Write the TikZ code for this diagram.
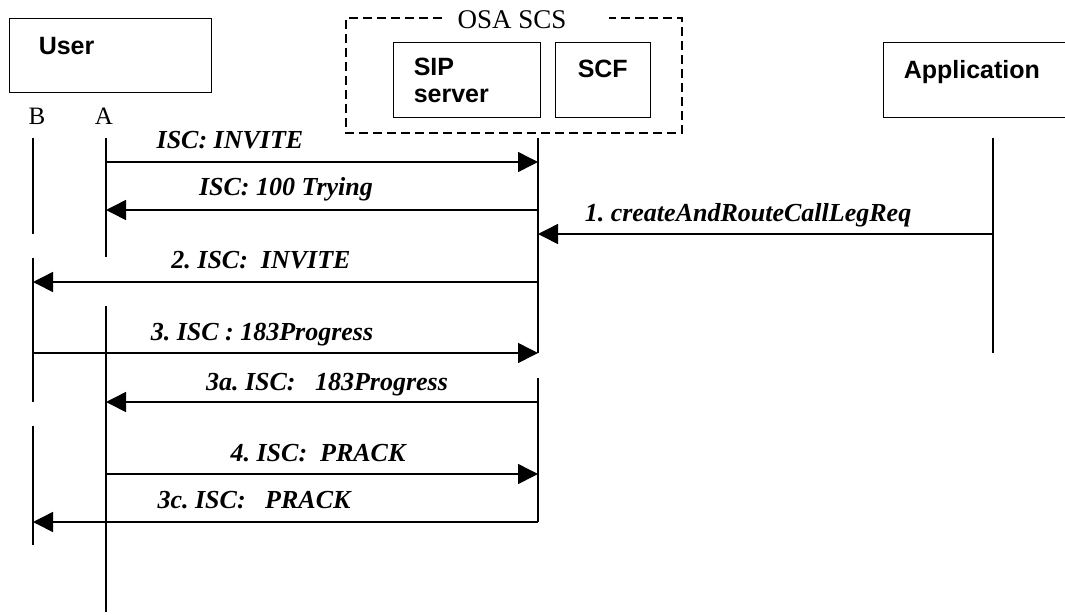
\documentclass[tikz,border=0pt]{standalone}
\usepackage{fontspec}
\setmainfont{Liberation Serif}
\setsansfont{Liberation Sans}
\usetikzlibrary{arrows.meta}
\frenchspacing

\begin{document}
\begin{tikzpicture}[x=1pt, y=-1pt, line width=1.5pt,
		box/.style = {draw, line width=1.2pt, anchor=north west, inner sep=0pt},
		head/.style = {font=\sffamily\bfseries\fontsize{25}{30}\selectfont, anchor=base west, inner sep=0pt},
		msg/.style = {-{Triangle[length=20pt, width=20pt]}},
		lbl/.style = {font=\fontsize{26}{30}\selectfont\bfseries\itshape, anchor=base, inner sep=0pt}]

			\useasboundingbox (0,0) rectangle (1065,614);

			\def\xB{33};
			\def\xA{106};
			\def\xS{538};
			\def\xP{993};

			% entities
			\node[box, minimum width=202pt, minimum height=74pt] (user) at (9,18) {};
			\node[head] (usertxt) at (38,54) {User};

			\draw[line width=1.2pt, dash pattern=on 9pt off 5pt] (442,18) -- (346,18) -- (346,133) -- (682,133) -- (682,18) -- (609,18);
			\node[font=\fontsize{27}{30}\selectfont, anchor=base, inner sep=0pt] (osa) at (512,28) {OSA SCS};

			\node[box, minimum width=147pt, minimum height=75pt] (sip) at (393,42) {};
			\node[head] (siptxt) at (413,75) {SIP};
			\node[head] (servtxt) at (413,102) {server};
			\node[box, minimum width=95pt, minimum height=75pt] (scf) at (555,42) {};
			\node[head] (scftxt) at (577,77) {SCF};

			\node[box, minimum width=182pt, minimum height=75pt] (app) at (883,42) {};
			\node[head] (apptxt) at (903,78) {Application};

			\node[font=\fontsize{25}{30}\selectfont, anchor=base, inner sep=0pt] (lb) at (37,124) {B};
			\node[font=\fontsize{25}{30}\selectfont, anchor=base, inner sep=0pt] (la) at (104,124) {A};

			% lifelines
			\begin{scope}[line width=1.6pt]
				\draw (\xB,138) -- (\xB,234);
				\draw (\xB,258) -- (\xB,402);
				\draw (\xB,426) -- (\xB,545);
				\draw (\xA,138) -- (\xA,257);
				\draw (\xA,306) -- (\xA,612);
				\draw (\xS,138) -- (\xS,353);
				\draw (\xS,378) -- (\xS,522);
				\draw (\xP,138) -- (\xP,353);
			\end{scope}

			% messages
			\coordinate (m1a) at (\xA,162);
			\coordinate (m1s) at (\xS,162);
			\coordinate (m2s) at (\xS,210);
			\coordinate (m2a) at (\xA,210);
			\coordinate (m3p) at (\xP,234);
			\coordinate (m3s) at (\xS,234);
			\coordinate (m4s) at (\xS,282);
			\coordinate (m4b) at (\xB,282);
			\coordinate (m5b) at (\xB,353);
			\coordinate (m5s) at (\xS,353);
			\coordinate (m6s) at (\xS,402);
			\coordinate (m6a) at (\xA,402);
			\coordinate (m7a) at (\xA,474);
			\coordinate (m7s) at (\xS,474);
			\coordinate (m8s) at (\xS,522);
			\coordinate (m8b) at (\xB,522);

			\draw[msg] (m1a) -- (m1s);
			\draw[msg] (m2s) -- (m2a);
			\draw[msg] (m3p) -- (m3s);
			\draw[msg] (m4s) -- (m4b);
			\draw[msg] (m5b) -- (m5s);
			\draw[msg] (m6s) -- (m6a);
			\draw[msg] (m7a) -- (m7s);
			\draw[msg] (m8s) -- (m8b);

			\node[lbl] (invite) at (230,148) {ISC: INVITE};
			\node[lbl] (trying) at (286,195) {ISC: 100 Trying};
			\node[lbl] (create) at (748,221) {1. createAndRouteCallLegReq};
			\node[lbl] (invite2) at (261,268) {2. ISC:\ \ INVITE};
			\node[lbl] (prog) at (262,340) {3. ISC : 183Progress};
			\node[lbl] (prog2) at (327,390) {3a. ISC:\ \ \ 183Progress};
			\node[lbl] (prack) at (318,461) {4. ISC:\ \ PRACK};
			\node[lbl] (prack2) at (254,508) {3c. ISC:\ \ \ PRACK};
		\end{tikzpicture}
\end{document}
